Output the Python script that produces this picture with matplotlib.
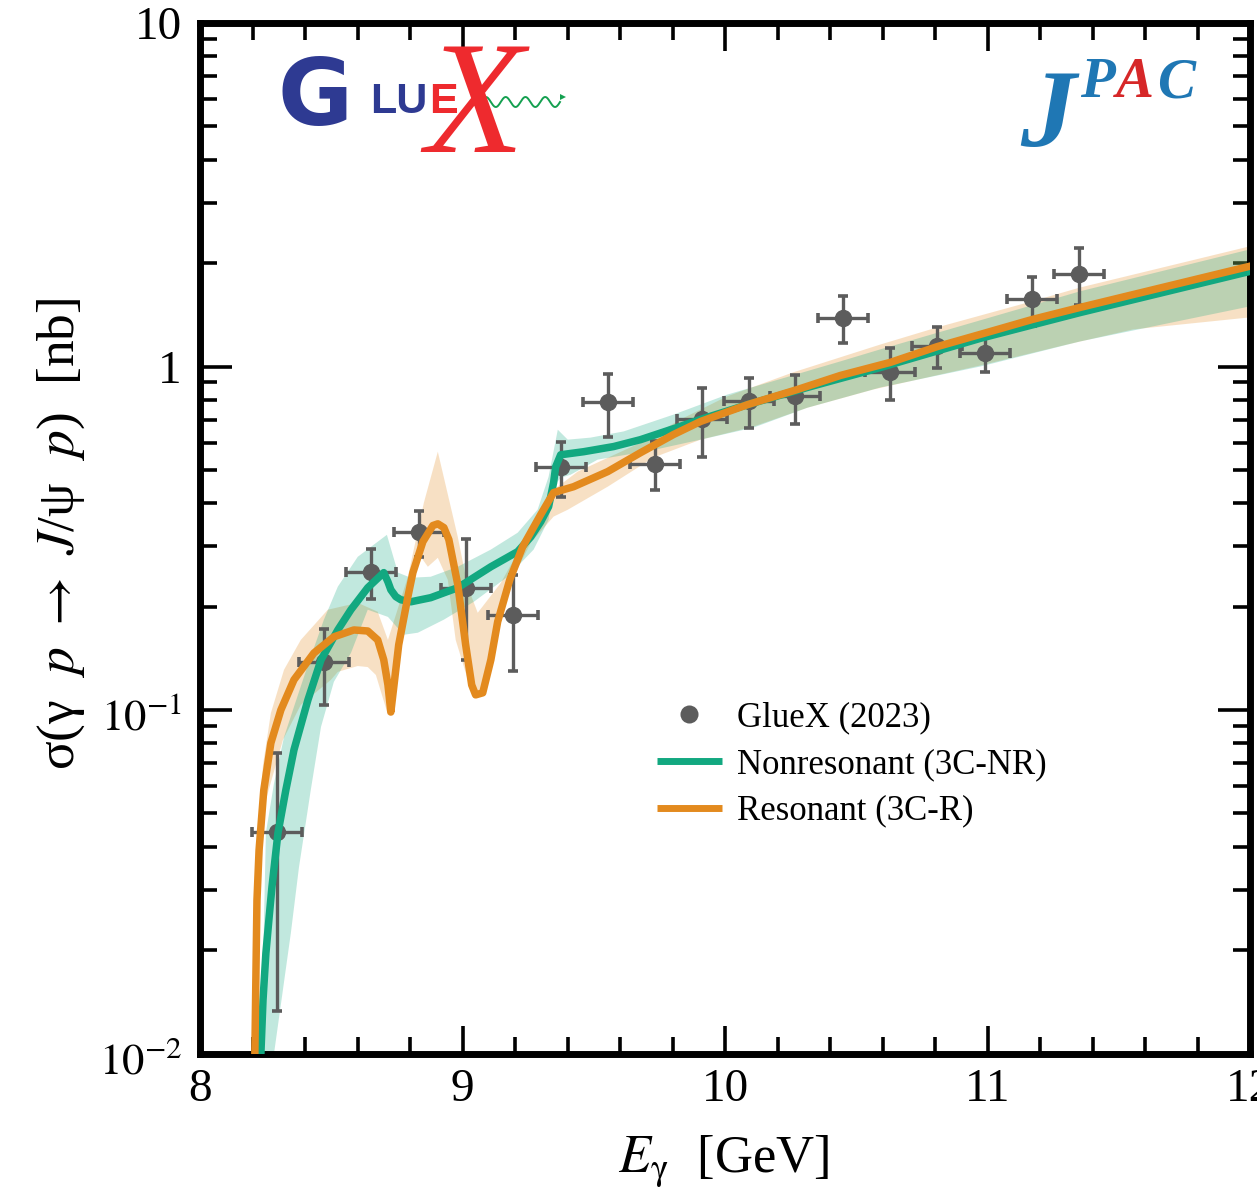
# ---------------------------------------------------------------------------- #
# NEEDED IMPORTS

import matplotlib
matplotlib.use("Agg")
import matplotlib.pyplot as plt
from matplotlib.lines import Line2D
from matplotlib.ticker import FixedLocator, MultipleLocator, NullFormatter
from matplotlib.transforms import ScaledTranslation
import numpy as np

# ---------------------------------------------------------------------------- #
# DATA (curves and bands as log10 of sigma)

data_E = [8.293, 8.472, 8.651, 8.834, 9.012, 9.191, 9.374, 9.553, 9.732,
          9.911, 10.09, 10.268, 10.451, 10.63, 10.809, 10.992, 11.171, 11.349]
data_xerr = [0.095] * 18
data_sigma = [0.0441, 0.138, 0.2525, 0.330, 0.227, 0.189, 0.511, 0.79, 0.521,
              0.705, 0.796, 0.818, 1.38, 0.967, 1.144, 1.098, 1.568, 1.855]
data_hi = [0.075, 0.172, 0.2946, 0.380, 0.315, 0.2476, 0.604, 0.954, 0.608,
           0.863, 0.923, 0.942, 1.6, 1.135, 1.30, 1.216, 1.818, 2.208]
data_lo = [0.0133, 0.1034, 0.2107, 0.279, 0.14, 0.13, 0.418, 0.625, 0.438,
           0.547, 0.664, 0.682, 1.167, 0.80, 0.993, 0.967, 1.308, 1.506]

nr_E = [8.232, 8.240, 8.251, 8.263, 8.274, 8.297, 8.327, 8.358, 8.411, 8.461,
        8.525, 8.575, 8.639, 8.700, 8.716, 8.727, 8.746, 8.765, 8.803, 8.879,
        8.982, 9.108, 9.210, 9.260, 9.298, 9.328, 9.347, 9.355, 9.374, 9.462,
        9.576, 9.678, 9.804, 9.907, 10.086, 10.314, 10.592, 10.973, 11.353,
        12.0]
nr_log = [-2.0, -1.845, -1.708, -1.606, -1.516, -1.358, -1.233, -1.116, -0.971,
          -0.854, -0.767, -0.708, -0.644, -0.600, -0.627, -0.650, -0.670,
          -0.679, -0.685, -0.673, -0.644, -0.583, -0.539, -0.496, -0.452,
          -0.408, -0.338, -0.292, -0.257, -0.248, -0.233, -0.213, -0.181,
          -0.154, -0.111, -0.061, -0.003, 0.082, 0.157, 0.277]

res_E = [8.209, 8.213, 8.217, 8.225, 8.243, 8.270, 8.308, 8.358, 8.434, 8.510,
         8.586, 8.639, 8.677, 8.700, 8.716, 8.727, 8.757, 8.792, 8.811, 8.849,
         8.887, 8.906, 8.929, 8.948, 8.982, 9.012, 9.035, 9.050, 9.077, 9.108,
         9.134, 9.180, 9.229, 9.298, 9.347, 9.423, 9.553, 9.678, 9.804, 9.907,
         10.086, 10.276, 10.440, 10.630, 10.809, 10.984, 11.171, 11.353, 12.0]
res_log = [-2.0, -1.772, -1.554, -1.408, -1.233, -1.096, -1.000, -0.912, -0.834,
           -0.787, -0.767, -0.770, -0.796, -0.854, -0.927, -1.006, -0.810,
           -0.670, -0.600, -0.510, -0.463, -0.458, -0.469, -0.504, -0.635,
           -0.810, -0.927, -0.956, -0.950, -0.854, -0.743, -0.621, -0.525,
           -0.431, -0.367, -0.350, -0.306, -0.251, -0.198, -0.160, -0.111,
           -0.067, -0.026, 0.012, 0.058, 0.096, 0.137, 0.172, 0.292]

nr_up_E = [8.225, 8.240, 8.251, 8.282, 8.320, 8.354, 8.411, 8.472, 8.525, 8.601,
           8.712, 8.754, 8.803, 8.879, 8.982, 9.108, 9.210, 9.286, 9.328, 9.363,
           9.401, 9.488, 9.614, 9.804, 10.008, 10.440, 10.592, 11.353, 12.0]
nr_up_log = [-2.0, -1.749, -1.358, -1.213, -1.079, -1.000, -0.869, -0.737,
             -0.641, -0.554, -0.490, -0.600, -0.615, -0.612, -0.583, -0.533,
             -0.484, -0.417, -0.321, -0.184, -0.213, -0.207, -0.189, -0.140,
             -0.082, 0.015, 0.050, 0.219, 0.341]
nr_lo_E = [8.282, 8.346, 8.377, 8.422, 8.461, 8.510, 8.575, 8.639, 8.716, 8.776,
           8.830, 8.929, 9.043, 9.172, 9.271, 9.328, 9.347, 9.374, 9.412, 9.515,
           9.716, 9.907, 10.108, 10.314, 10.592, 10.973, 11.353, 12.0]
nr_lo_log = [-2.0, -1.650, -1.458, -1.233, -1.049, -0.918, -0.834, -0.708,
             -0.729, -0.781, -0.775, -0.737, -0.685, -0.612, -0.533, -0.446,
             -0.350, -0.324, -0.315, -0.271, -0.245, -0.213, -0.178, -0.120,
             -0.061, 0.0, 0.073, 0.175]

res_up_E = [8.202, 8.213, 8.240, 8.270, 8.320, 8.384, 8.487, 8.601, 8.677, 8.716,
            8.792, 8.853, 8.906, 8.982, 9.020, 9.058, 9.146, 9.210, 9.286, 9.347,
            9.439, 9.678, 9.831, 10.008, 10.260, 10.592, 10.809, 11.171, 11.353,
            12.0]
res_up_log = [-2.0, -1.437, -1.160, -1.009, -0.883, -0.796, -0.708, -0.688,
              -0.714, -0.796, -0.612, -0.396, -0.248, -0.496, -0.641, -0.717,
              -0.630, -0.542, -0.446, -0.359, -0.306, -0.222, -0.154, -0.087,
              -0.017, 0.064, 0.114, 0.190, 0.230, 0.350]
res_lo_E = [8.217, 8.225, 8.251, 8.316, 8.384, 8.499, 8.525, 8.601, 8.639, 8.670,
            8.716, 8.738, 8.776, 8.830, 8.868, 8.906, 8.944, 8.974, 9.024, 9.043,
            9.081, 9.146, 9.195, 9.260, 9.347, 9.401, 9.553, 9.728, 9.907, 10.108,
            10.314, 10.565, 10.973, 11.303, 11.555, 12.0]
res_lo_log = [-2.0, -1.554, -1.262, -1.087, -0.985, -0.912, -0.889, -0.872,
              -0.875, -0.898, -1.014, -0.933, -0.679, -0.542, -0.583, -0.557,
              -0.621, -0.796, -0.921, -0.965, -0.956, -0.737, -0.612, -0.513,
              -0.437, -0.417, -0.350, -0.265, -0.213, -0.175, -0.120, -0.067,
              0.003, 0.064, 0.108, 0.143]

x_ticks = [8, 9, 10, 11, 12]
y_ticks = [0.01, 0.1, 1, 10]
y_tick_labels = [r"$10^{-2}$", r"$10^{-1}$", "1", "10"]
legend_labels = ["GlueX (2023)", "Nonresonant (3C-NR)", "Resonant (3C-R)"]

GREEN = "#12a880"
ORANGE = "#e38a1e"
GREY = "#5c5c5c"
BLUE = "#1f77b4"
RED = "#d62728"

# ---------------------------------------------------------------------------- #
# FIGURE

W, H = 1257, 1187
plt.rcParams["font.family"] = ["Liberation Serif", "DejaVu Serif"]
plt.rcParams["mathtext.fontset"] = "stix"

fig = plt.figure(figsize=(W / 100, H / 100), dpi=100)
ax = fig.add_axes([200 / W, 1 - 1053.5 / H, 1050 / W, 1030.5 / H])
ax.set_yscale("log")
ax.set_xlim(8, 12)
ax.set_ylim(0.01, 10)

# Uncertainty bands, the green one over the orange one
ax.fill(np.r_[res_up_E, res_lo_E[::-1]],
        10 ** np.r_[res_up_log, res_lo_log[::-1]],
        color=ORANGE, alpha=0.26, lw=0, zorder=2)
ax.fill(np.r_[nr_up_E, nr_lo_E[::-1]],
        10 ** np.r_[nr_up_log, nr_lo_log[::-1]],
        color=GREEN, alpha=0.26, lw=0, zorder=2.1)

# Data points, over the bands but under the curves
ax.errorbar(data_E, data_sigma, xerr=data_xerr,
            yerr=[np.array(data_sigma) - np.array(data_lo),
                  np.array(data_hi) - np.array(data_sigma)],
            fmt="o", color=GREY, ms=11.5, elinewidth=2.4, capsize=3.5,
            capthick=2.6, zorder=3)

# Central curves
ax.plot(nr_E, 10 ** np.array(nr_log), color=GREEN, lw=5.4, zorder=4)
ax.plot(res_E, 10 ** np.array(res_log), color=ORANGE, lw=5.4, zorder=5)

# ---------------------------------------------------------------------------- #
# AXES

for side in ax.spines:
    ax.spines[side].set_linewidth(5)

ax.xaxis.set_major_locator(FixedLocator(x_ticks))
ax.xaxis.set_minor_locator(MultipleLocator(0.2))
ax.yaxis.set_major_locator(FixedLocator(y_ticks))
ax.yaxis.set_minor_locator(FixedLocator(
    [m * d for d in (0.01, 0.1, 1) for m in range(2, 10)]))
ax.yaxis.set_minor_formatter(NullFormatter())
ax.set_yticklabels(y_tick_labels)

ax.tick_params(which="both", direction="in", top=True, right=True, width=2.6,
               labelsize=34)
ax.tick_params(which="major", length=23)
ax.tick_params(which="minor", length=12)
ax.tick_params(axis="x", which="major", pad=11, length=20)
ax.tick_params(axis="y", which="major", pad=13)

# The labels with an exponent sit a little below their tick
for label in ax.get_yticklabels()[:2]:
    label.set_fontsize(32)
    label.set_transform(label.get_transform()
                        + ScaledTranslation(0, -4 / 100, fig.dpi_scale_trans))

ax.set_xlabel(r"$E_{\mathrm{\gamma}}$  [GeV]", fontsize=38)
ax.xaxis.set_label_coords(0.499, -0.077)
ax.set_ylabel(r"σ(γ  $p$ $\rightarrow$ $J$/ψ  $p$)  [nb]", fontsize=38.4)
ax.yaxis.set_label_coords(-0.108, 0.504)

# ---------------------------------------------------------------------------- #
# LEGEND

handles = [Line2D([], [], ls="", marker="o", ms=13, mew=0, color=GREY),
           Line2D([], [], color=GREEN, lw=5, solid_capstyle="butt"),
           Line2D([], [], color=ORANGE, lw=5, solid_capstyle="butt")]
ax.legend(handles, legend_labels, frameon=False, fontsize=25, handlelength=1.87,
          handletextpad=0.43, labelspacing=0.4, borderpad=0, borderaxespad=0,
          loc="upper left",
          bbox_to_anchor=((657 - 200) / 1050, 1 - (701 - 23) / 1030.5))

# ---------------------------------------------------------------------------- #
# LOGOS (drawn as text, in figure pixels)

def logo(x, y, s, **kwargs):
    fig.text(x / W, 1 - y / H, s, va="baseline", ha="left", **kwargs)

logo(1020, 146, "J", fontsize=80, color=BLUE, style="italic", weight="bold")
logo(1080, 97, "P", fontsize=41, color=BLUE, style="italic", weight="bold")
logo(1116, 97, "A", fontsize=41, color=RED, style="italic", weight="bold")
logo(1157, 97, "C", fontsize=41, color=BLUE, style="italic", weight="bold")

logo(278, 125, "G", fontsize=66, color="#2e3a92", weight="bold",
     family="DejaVu Sans")
logo(370, 113, "LU", fontsize=31, color="#2e3a92", weight="bold",
     family="Liberation Sans")
logo(429, 113, "E", fontsize=31, color="#ee2a2e", weight="bold",
     family="Liberation Sans")
logo(425, 152, "X", fontsize=116, color="#ee2a2e", style="italic")

# Photon wiggle of the logo
wig_x = np.linspace(481, 560, 200)
wig_y = 102 + 5 * np.sin((wig_x - 481) / 79 * 2 * np.pi * 4 + np.pi)
fig.add_artist(Line2D(wig_x / W, 1 - wig_y / H, color="#14a050", lw=1.4))
fig.add_artist(Line2D([563 / W], [1 - 97 / H], color="#14a050", marker=">", ms=4,
                      mew=0, ls=""))

fig.savefig("out.png", dpi=100)

# end of file #
